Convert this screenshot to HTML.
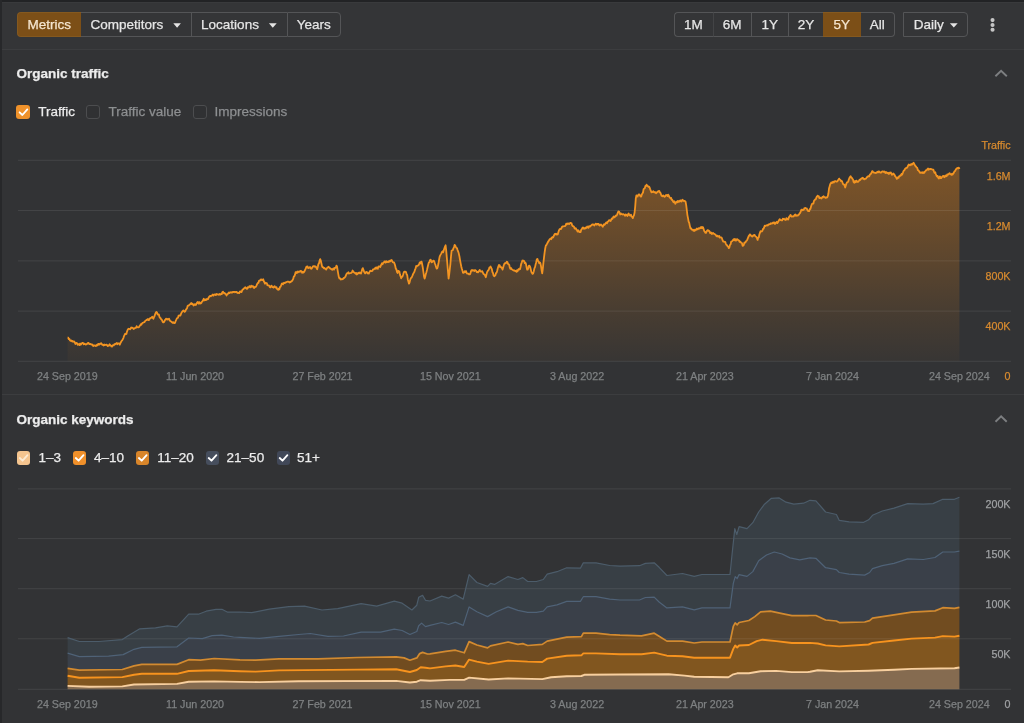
<!DOCTYPE html>
<html><head><meta charset="utf-8">
<style>
*{box-sizing:border-box;margin:0;padding:0}
html,body{width:1024px;height:723px;overflow:hidden;background:#323335;font-family:"Liberation Sans",sans-serif;}
#root{-webkit-text-stroke:0.25px;filter:blur(0.6px);position:relative;width:1024px;height:723px;background:#323335;overflow:hidden;color:#e8e8e8;font-size:13.5px}
.abs{position:absolute}
.topedge{left:0;top:0;width:1024px;height:1.5px;background:#222325}
.topedge2{left:2px;top:1.5px;width:1022px;height:1.5px;background:#393a3c}
.leftedge{left:0;top:0;width:1.5px;height:723px;background:#27282a}
.hdr{left:2px;top:3px;width:1022px;height:46px;background:#343537}
.sep{left:2px;width:1022px;height:1px;background:#3c3d3f}
.btn{position:absolute;top:12.4px;height:25px;line-height:23.4px;text-align:center;color:#e6e6e6;font-size:13.5px;border-top:1px solid #545557;border-bottom:1px solid #545557;white-space:nowrap}
.btn.sepl{border-left:1px solid #545557}
.btn.first{border-left:1px solid #545557;border-radius:4px 0 0 4px}
.btn.last{border-right:1px solid #545557;border-radius:0 4px 4px 0}
.btn.act{background:#7c4f17;border-color:#85591f;color:#f5e6d0}
.caret{display:inline-block;width:0;height:0;border-left:3.9px solid transparent;border-right:3.9px solid transparent;border-top:4.5px solid #e6e6e6;vertical-align:middle;margin-left:9.6px;position:relative;top:0.3px}
.h{position:absolute;left:16.5px;font-weight:bold;font-size:13.5px;color:#ececec;white-space:nowrap}
.cb{position:absolute;width:13.8px;height:13.8px;border-radius:3px}
.cb.off{border:1px solid #4c4d4f;background:#303133}
.lbl{position:absolute;font-size:13.5px;white-space:nowrap;line-height:16px}
.xl{position:absolute;font-size:10.7px;color:#7e8082;white-space:nowrap;line-height:12px}
.yl{position:absolute;font-size:10.7px;white-space:nowrap;line-height:12px;text-align:right;width:60px}
svg{position:absolute;left:0;top:0}
</style></head><body>
<div id="root">
<div class="abs hdr"></div>
<div class="abs topedge"></div>
<div class="abs topedge2"></div>
<div class="abs leftedge"></div>
<div class="abs sep" style="top:49.2px"></div>
<div class="abs sep" style="top:393.8px"></div>

<!-- left button group -->
<div class="btn first act" style="left:16.5px;width:64.5px">Metrics</div>
<div class="btn" style="left:81px;width:109.5px;text-align:left;padding-left:9.6px">Competitors</div>
<div class="btn sepl" style="left:190.5px;width:96px;text-align:left;padding-left:9.6px">Locations</div>
<div class="btn sepl last" style="left:286.5px;width:54.5px">Years</div>

<!-- right button group -->
<div class="btn first" style="left:673.5px;width:39px">1M</div>
<div class="btn sepl" style="left:712.5px;width:38.3px;border-left-color:#434446">6M</div>
<div class="btn sepl" style="left:750.8px;width:37px">1Y</div>
<div class="btn sepl" style="left:787.8px;width:35.2px">2Y</div>
<div class="btn act" style="left:823px;width:37.5px">5Y</div>
<div class="btn last" style="left:860.5px;width:34.3px">All</div>
<div class="btn first last" style="left:903px;width:65px;text-align:left;padding-left:9.8px">Daily</div>

<!-- section 1 -->
<div class="h" style="top:66px">Organic traffic</div>
<div class="cb" style="left:16.4px;top:105.3px;background:#ef922b"></div>
<div class="lbl" style="left:38.2px;top:104px;color:#ececec">Traffic</div>
<div class="cb off" style="left:86.3px;top:105.3px"></div>
<div class="lbl" style="left:108.5px;top:104px;color:#8d8f91">Traffic value</div>
<div class="cb off" style="left:192.8px;top:105.3px"></div>
<div class="lbl" style="left:214.6px;top:104px;color:#8d8f91">Impressions</div>

<!-- section 2 -->
<div class="h" style="top:412px">Organic keywords</div>
<div class="cb" style="left:16.6px;top:451px;background:#f5c58f"></div>
<div class="lbl" style="left:38.6px;top:449.8px;color:#ececec">1–3</div>
<div class="cb" style="left:72.6px;top:451px;background:#f0902a"></div>
<div class="lbl" style="left:94px;top:449.8px;color:#ececec">4–10</div>
<div class="cb" style="left:135.7px;top:451px;background:#d8852a"></div>
<div class="lbl" style="left:157.3px;top:449.8px;color:#ececec">11–20</div>
<div class="cb" style="left:205.5px;top:451px;background:#464e5d"></div>
<div class="lbl" style="left:226.6px;top:449.8px;color:#ececec">21–50</div>
<div class="cb" style="left:276.5px;top:451px;background:#414858"></div>
<div class="lbl" style="left:297px;top:449.8px;color:#ececec">51+</div>


<svg width="1024" height="723" viewBox="0 0 1024 723">
<defs>
<linearGradient id="tg" x1="0" y1="160" x2="0" y2="361" gradientUnits="userSpaceOnUse">
<stop offset="0" stop-color="#ea8415" stop-opacity="0.42"/>
<stop offset="0.25" stop-color="#ea8415" stop-opacity="0.33"/>
<stop offset="0.5" stop-color="#ea8415" stop-opacity="0.23"/>
<stop offset="0.75" stop-color="#ea8415" stop-opacity="0.12"/>
<stop offset="1" stop-color="#ea8415" stop-opacity="0.03"/>
</linearGradient>
</defs>
<g fill="#e4e4e4">
<polygon points="173.3,23.2 180.9,23.2 177.1,27.7"/>
<polygon points="268.9,23.2 276.7,23.2 272.8,27.7"/>
<polygon points="949.9,23.2 957.7,23.2 953.8,27.6"/>
</g>
<g fill="#c6c6c6"><circle cx="992.55" cy="20.1" r="2.05"/><circle cx="992.55" cy="24.95" r="2.05"/><circle cx="992.55" cy="29.8" r="2.05"/></g>
<!-- chevrons -->
<path d="M995.4,76.3 L1001.1,70.9 L1006.8,76.3" fill="none" stroke="#7d7f81" stroke-width="1.9"/>
<path d="M995.5,421.7 L1001.1,416.4 L1006.7,421.7" fill="none" stroke="#7d7f81" stroke-width="1.9"/>
<!-- check marks -->
<path d="M19.6,112.3 L22.4,115 L27.3,109.4" fill="none" stroke="#fff" stroke-width="1.8" stroke-linecap="round" stroke-linejoin="round"/>

<path d="M19.8,458.0 L22.6,460.7 L27.5,455.1" fill="none" stroke="#fdebd3" stroke-width="1.8" stroke-linecap="round" stroke-linejoin="round"/>
<path d="M75.8,458.0 L78.6,460.7 L83.5,455.1" fill="none" stroke="#fff" stroke-width="1.8" stroke-linecap="round" stroke-linejoin="round"/>
<path d="M138.9,458.0 L141.7,460.7 L146.6,455.1" fill="none" stroke="#fff" stroke-width="1.8" stroke-linecap="round" stroke-linejoin="round"/>
<path d="M208.7,458.0 L211.5,460.7 L216.4,455.1" fill="none" stroke="#fff" stroke-width="1.8" stroke-linecap="round" stroke-linejoin="round"/>
<path d="M279.7,458.0 L282.5,460.7 L287.4,455.1" fill="none" stroke="#fff" stroke-width="1.8" stroke-linecap="round" stroke-linejoin="round"/>
<!-- top grid -->
<path d="M67.6,337.5 L68.2,337.6 L68.8,339.2 L69.4,339.0 L70.0,340.3 L70.6,340.9 L71.2,340.4 L71.8,341.4 L72.4,340.9 L73.0,341.8 L73.6,341.5 L74.2,341.5 L74.8,342.5 L75.4,344.0 L76.0,343.0 L76.6,342.8 L77.2,343.6 L77.8,344.8 L78.4,344.5 L79.0,344.0 L79.6,345.1 L80.2,343.5 L80.8,344.6 L81.4,343.9 L82.0,343.2 L82.6,342.8 L83.2,343.0 L83.8,344.3 L84.4,343.6 L85.0,344.1 L85.6,344.5 L86.2,344.1 L86.8,344.3 L87.4,343.4 L88.0,342.9 L88.6,343.0 L89.2,344.1 L89.8,344.2 L90.4,343.9 L91.0,344.4 L91.6,344.6 L92.2,344.4 L92.8,345.5 L93.4,346.0 L94.0,345.3 L94.6,345.7 L95.2,345.5 L95.8,346.0 L96.4,345.8 L97.0,344.6 L97.6,345.4 L98.2,343.8 L98.8,343.8 L99.4,344.6 L100.0,343.6 L100.6,343.9 L101.2,343.1 L101.8,344.1 L102.4,344.8 L103.0,344.8 L103.6,345.5 L104.2,344.5 L104.8,345.0 L105.4,344.9 L106.0,344.9 L106.6,344.6 L107.2,345.4 L107.8,346.1 L108.4,345.4 L109.0,345.6 L109.6,344.3 L110.2,345.1 L110.8,345.5 L111.4,346.5 L112.0,346.7 L112.6,345.5 L113.2,345.1 L113.8,345.4 L114.4,344.1 L115.0,344.4 L115.6,343.8 L116.2,343.4 L116.8,343.0 L117.4,344.3 L118.0,343.5 L118.6,343.3 L119.2,343.5 L119.8,344.7 L120.4,343.2 L121.0,342.0 L121.6,340.9 L122.2,340.4 L122.8,339.2 L123.4,338.1 L124.0,336.1 L124.6,334.9 L125.2,333.8 L125.8,334.1 L126.4,333.9 L127.0,331.6 L127.6,330.0 L128.2,329.0 L128.8,328.7 L129.4,329.0 L130.0,329.3 L130.6,328.6 L131.2,327.5 L131.8,327.8 L132.4,327.7 L133.0,328.0 L133.6,329.0 L134.2,328.7 L134.8,328.1 L135.4,327.9 L136.0,327.8 L136.6,326.2 L137.2,327.2 L137.8,327.3 L138.4,327.4 L139.0,327.2 L139.6,326.0 L140.2,325.3 L140.8,324.2 L141.4,324.7 L142.0,323.5 L142.6,322.8 L143.2,322.6 L143.8,322.3 L144.4,322.2 L145.0,321.3 L145.6,320.5 L146.2,320.2 L146.8,319.7 L147.4,319.8 L148.0,318.9 L148.6,320.1 L149.2,319.9 L149.8,318.6 L150.4,318.0 L151.0,317.8 L151.6,317.6 L152.2,316.8 L152.8,317.9 L153.4,318.7 L154.0,317.2 L154.6,316.0 L155.2,314.0 L155.8,312.6 L156.4,312.0 L157.0,312.5 L157.6,314.5 L158.2,314.3 L158.8,314.3 L159.4,316.7 L160.0,317.8 L160.6,318.0 L161.2,319.5 L161.8,319.7 L162.4,321.3 L163.0,322.3 L163.6,322.3 L164.2,321.8 L164.8,320.3 L165.4,319.6 L166.0,318.6 L166.6,319.3 L167.2,318.9 L167.8,319.6 L168.4,319.1 L169.0,318.6 L169.6,319.9 L170.2,321.0 L170.8,321.3 L171.4,321.7 L172.0,322.3 L172.6,322.8 L173.2,322.2 L173.8,322.9 L174.4,323.2 L175.0,323.0 L175.6,321.1 L176.2,319.9 L176.8,318.5 L177.4,318.1 L178.0,317.7 L178.6,315.6 L179.2,315.5 L179.8,315.6 L180.4,315.5 L181.0,313.9 L181.6,312.5 L182.2,311.7 L182.8,311.0 L183.4,310.5 L184.0,311.1 L184.6,311.8 L185.2,311.4 L185.8,309.9 L186.4,309.0 L187.0,308.4 L187.6,306.0 L188.2,305.6 L188.8,305.5 L189.4,304.7 L190.0,304.4 L190.6,303.9 L191.2,303.0 L191.8,304.1 L192.4,303.6 L193.0,304.5 L193.6,305.5 L194.2,304.7 L194.8,304.2 L195.4,305.0 L196.0,304.8 L196.6,303.4 L197.2,302.4 L197.8,301.9 L198.4,303.3 L199.0,303.7 L199.6,302.2 L200.2,303.0 L200.8,303.5 L201.4,302.8 L202.0,301.6 L202.6,301.2 L203.2,299.9 L203.8,298.8 L204.4,300.3 L205.0,300.1 L205.6,299.5 L206.2,300.0 L206.8,299.0 L207.4,299.3 L208.0,299.2 L208.6,297.6 L209.2,296.8 L209.8,296.3 L210.4,295.8 L211.0,296.2 L211.6,295.5 L212.2,295.3 L212.8,294.4 L213.4,295.6 L214.0,294.8 L214.6,294.4 L215.2,294.4 L215.8,295.0 L216.4,294.0 L217.0,294.5 L217.6,294.3 L218.2,294.5 L218.8,294.8 L219.4,293.9 L220.0,294.7 L220.6,294.6 L221.2,293.7 L221.8,294.0 L222.4,292.1 L223.0,291.6 L223.6,292.8 L224.2,293.3 L224.8,293.2 L225.4,293.8 L226.0,294.4 L226.6,295.5 L227.2,294.1 L227.8,294.0 L228.4,293.1 L229.0,292.5 L229.6,293.1 L230.2,292.6 L230.8,292.2 L231.4,292.3 L232.0,292.7 L232.6,292.0 L233.2,292.1 L233.8,291.9 L234.4,291.8 L235.0,292.3 L235.6,292.0 L236.2,292.0 L236.8,291.9 L237.4,293.0 L238.0,292.8 L238.6,293.0 L239.2,293.1 L239.8,291.5 L240.4,291.3 L241.0,292.0 L241.6,292.0 L242.2,290.3 L242.8,289.3 L243.4,289.4 L244.0,288.3 L244.6,288.0 L245.2,287.2 L245.8,288.0 L246.4,288.5 L247.0,288.9 L247.6,287.3 L248.2,287.6 L248.8,287.5 L249.4,286.1 L250.0,286.9 L250.6,287.4 L251.2,285.7 L251.8,286.5 L252.4,286.1 L253.0,286.2 L253.6,287.5 L254.2,288.0 L254.8,286.9 L255.4,287.1 L256.0,286.7 L256.6,285.4 L257.2,283.9 L257.8,283.0 L258.4,282.9 L259.0,280.8 L259.6,280.5 L260.2,280.5 L260.8,279.4 L261.4,279.5 L262.0,280.2 L262.6,280.2 L263.2,279.2 L263.8,281.2 L264.4,282.3 L265.0,283.7 L265.6,282.8 L266.2,283.1 L266.8,283.1 L267.4,285.2 L268.0,285.4 L268.6,285.3 L269.2,285.7 L269.8,287.0 L270.4,287.4 L271.0,286.4 L271.6,285.6 L272.2,287.0 L272.8,287.1 L273.4,287.6 L274.0,286.6 L274.6,286.1 L275.2,287.4 L275.8,287.6 L276.4,287.1 L277.0,288.9 L277.6,289.2 L278.2,289.9 L278.8,288.7 L279.4,289.3 L280.0,286.8 L280.6,286.8 L281.2,285.2 L281.8,283.6 L282.4,283.4 L283.0,284.4 L283.6,283.4 L284.2,282.6 L284.8,283.1 L285.4,282.7 L286.0,282.2 L286.6,282.1 L287.2,281.6 L287.8,281.6 L288.4,281.8 L289.0,281.7 L289.6,282.6 L290.2,281.9 L290.8,282.0 L291.4,281.1 L292.0,281.0 L292.6,280.1 L293.2,278.9 L293.8,276.6 L294.4,276.2 L295.0,274.7 L295.6,272.2 L296.2,272.1 L296.8,273.1 L297.4,271.5 L298.0,272.3 L298.6,271.7 L299.2,271.4 L299.8,271.9 L300.4,271.0 L301.0,271.0 L301.6,271.6 L302.2,272.7 L302.8,271.8 L303.4,272.6 L304.0,272.0 L304.6,271.1 L305.2,269.7 L305.8,268.4 L306.4,266.7 L307.0,266.6 L307.6,266.5 L308.2,268.1 L308.8,267.9 L309.4,267.7 L310.0,267.0 L310.6,268.2 L311.2,268.8 L311.8,268.4 L312.4,267.2 L313.0,266.4 L313.6,266.2 L314.2,266.6 L314.8,266.2 L315.4,266.8 L316.0,266.7 L316.6,268.3 L317.2,269.2 L317.8,266.8 L318.4,264.0 L319.0,263.3 L319.6,260.6 L320.2,259.2 L320.8,260.6 L321.4,263.3 L322.0,266.1 L322.6,267.2 L323.2,267.2 L323.8,268.2 L324.4,267.9 L325.0,268.6 L325.6,268.9 L326.2,269.5 L326.8,268.4 L327.4,267.5 L328.0,267.4 L328.6,266.8 L329.2,267.5 L329.8,267.9 L330.4,268.6 L331.0,268.9 L331.6,269.2 L332.2,269.8 L332.8,269.0 L333.4,268.5 L334.0,269.6 L334.6,267.8 L335.2,267.9 L335.8,267.6 L336.4,265.7 L337.0,266.4 L337.6,270.2 L338.2,273.7 L338.8,276.9 L339.4,278.4 L340.0,278.1 L340.6,279.5 L341.2,279.1 L341.8,279.4 L342.4,279.2 L343.0,278.9 L343.6,278.0 L344.2,278.0 L344.8,277.3 L345.4,276.7 L346.0,275.2 L346.6,273.8 L347.2,273.1 L347.8,273.1 L348.4,272.3 L349.0,273.5 L349.6,273.3 L350.2,273.2 L350.8,273.0 L351.4,272.8 L352.0,272.2 L352.6,270.5 L353.2,271.4 L353.8,272.3 L354.4,272.5 L355.0,272.9 L355.6,273.7 L356.2,273.0 L356.8,274.5 L357.4,274.1 L358.0,273.0 L358.6,272.7 L359.2,273.4 L359.8,272.4 L360.4,273.0 L361.0,273.6 L361.6,271.5 L362.2,269.2 L362.8,268.1 L363.4,269.8 L364.0,271.4 L364.6,272.5 L365.2,273.4 L365.8,272.3 L366.4,271.9 L367.0,272.1 L367.6,273.4 L368.2,273.1 L368.8,273.6 L369.4,272.1 L370.0,271.1 L370.6,270.7 L371.2,271.2 L371.8,271.1 L372.4,270.8 L373.0,269.5 L373.6,269.4 L374.2,269.0 L374.8,268.7 L375.4,267.6 L376.0,268.7 L376.6,267.4 L377.2,268.5 L377.8,268.8 L378.4,266.6 L379.0,266.3 L379.6,266.7 L380.2,267.0 L380.8,265.7 L381.4,264.4 L382.0,263.3 L382.6,264.2 L383.2,262.8 L383.8,262.6 L384.4,261.3 L385.0,261.5 L385.6,262.6 L386.2,261.2 L386.8,262.0 L387.4,261.6 L388.0,262.2 L388.6,262.0 L389.2,260.8 L389.8,261.6 L390.4,261.0 L391.0,260.2 L391.6,260.0 L392.2,261.3 L392.8,262.1 L393.4,262.4 L394.0,262.5 L394.6,263.8 L395.2,265.7 L395.8,268.7 L396.4,269.2 L397.0,272.1 L397.6,273.0 L398.2,270.8 L398.8,271.2 L399.4,271.6 L400.0,274.8 L400.6,276.3 L401.2,278.3 L401.8,276.7 L402.4,276.7 L403.0,275.0 L403.6,272.9 L404.2,271.7 L404.8,271.9 L405.4,271.7 L406.0,272.1 L406.6,274.3 L407.2,275.1 L407.8,279.4 L408.4,281.4 L409.0,283.7 L409.6,282.3 L410.2,279.9 L410.8,278.2 L411.4,277.8 L412.0,276.7 L412.6,275.4 L413.2,273.7 L413.8,272.8 L414.4,271.8 L415.0,269.7 L415.6,268.3 L416.2,266.0 L416.8,266.3 L417.4,265.6 L418.0,265.6 L418.6,265.2 L419.2,263.9 L419.8,262.4 L420.4,263.5 L421.0,261.9 L421.6,261.7 L422.2,264.5 L422.8,267.7 L423.4,272.0 L424.0,276.4 L424.6,278.6 L425.2,276.8 L425.8,274.1 L426.4,272.3 L427.0,269.9 L427.6,267.2 L428.2,264.7 L428.8,262.6 L429.4,262.2 L430.0,260.1 L430.6,259.6 L431.2,261.1 L431.8,262.2 L432.4,261.7 L433.0,260.8 L433.6,260.7 L434.2,261.2 L434.8,263.3 L435.4,264.7 L436.0,266.7 L436.6,268.6 L437.2,268.4 L437.8,266.5 L438.4,263.8 L439.0,260.1 L439.6,256.8 L440.2,255.4 L440.8,254.4 L441.4,253.4 L442.0,251.9 L442.6,251.3 L443.2,252.2 L443.8,250.1 L444.4,248.3 L445.0,246.6 L445.6,245.3 L446.2,250.7 L446.8,257.4 L447.4,264.4 L448.0,271.8 L448.6,278.7 L449.2,274.4 L449.8,269.2 L450.4,263.8 L451.0,256.4 L451.6,250.6 L452.2,250.4 L452.8,250.1 L453.4,248.3 L454.0,247.1 L454.6,244.9 L455.2,245.4 L455.8,247.0 L456.4,247.8 L457.0,248.3 L457.6,250.1 L458.2,251.6 L458.8,253.6 L459.4,256.2 L460.0,259.8 L460.6,263.1 L461.2,266.2 L461.8,268.4 L462.4,270.4 L463.0,272.8 L463.6,272.8 L464.2,272.5 L464.8,271.1 L465.4,272.0 L466.0,271.1 L466.6,272.9 L467.2,273.6 L467.8,273.6 L468.4,273.6 L469.0,274.3 L469.6,274.4 L470.2,274.0 L470.8,271.9 L471.4,270.3 L472.0,270.0 L472.6,270.6 L473.2,270.6 L473.8,270.2 L474.4,271.0 L475.0,270.1 L475.6,270.4 L476.2,270.9 L476.8,272.1 L477.4,272.0 L478.0,272.4 L478.6,271.6 L479.2,270.6 L479.8,270.0 L480.4,271.4 L481.0,271.6 L481.6,271.5 L482.2,271.1 L482.8,272.4 L483.4,273.8 L484.0,274.3 L484.6,274.5 L485.2,275.9 L485.8,277.2 L486.4,274.8 L487.0,272.4 L487.6,271.3 L488.2,270.3 L488.8,269.7 L489.4,267.6 L490.0,267.3 L490.6,266.5 L491.2,268.0 L491.8,268.9 L492.4,272.0 L493.0,273.0 L493.6,275.5 L494.2,276.3 L494.8,275.8 L495.4,275.2 L496.0,273.1 L496.6,272.8 L497.2,270.8 L497.8,268.3 L498.4,266.3 L499.0,265.0 L499.6,265.2 L500.2,267.2 L500.8,266.8 L501.4,267.7 L502.0,268.3 L502.6,269.6 L503.2,267.3 L503.8,265.3 L504.4,263.7 L505.0,263.1 L505.6,263.4 L506.2,262.9 L506.8,261.7 L507.4,262.1 L508.0,263.9 L508.6,264.2 L509.2,264.8 L509.8,267.6 L510.4,268.9 L511.0,268.0 L511.6,269.2 L512.2,269.5 L512.8,269.9 L513.4,270.4 L514.0,270.5 L514.6,270.5 L515.2,271.0 L515.8,270.9 L516.4,271.9 L517.0,270.3 L517.6,271.2 L518.2,269.7 L518.8,269.0 L519.4,269.5 L520.0,269.2 L520.6,266.8 L521.2,263.8 L521.8,262.3 L522.4,260.5 L523.0,260.8 L523.6,260.6 L524.2,261.2 L524.8,263.2 L525.4,262.6 L526.0,264.1 L526.6,267.2 L527.2,269.7 L527.8,269.6 L528.4,267.4 L529.0,265.6 L529.6,265.9 L530.2,266.9 L530.8,269.5 L531.4,272.1 L532.0,273.0 L532.6,273.9 L533.2,273.3 L533.8,271.2 L534.4,268.4 L535.0,267.1 L535.6,264.5 L536.2,262.2 L536.8,259.5 L537.4,258.9 L538.0,260.7 L538.6,261.5 L539.2,263.2 L539.8,262.4 L540.4,263.1 L541.0,266.1 L541.6,270.1 L542.2,273.4 L542.8,268.9 L543.4,262.9 L544.0,257.7 L544.6,252.7 L545.2,248.5 L545.8,245.6 L546.4,245.0 L547.0,243.9 L547.6,242.8 L548.2,241.5 L548.8,240.9 L549.4,239.7 L550.0,239.0 L550.6,238.6 L551.2,239.2 L551.8,237.7 L552.4,237.0 L553.0,237.5 L553.6,236.3 L554.2,235.0 L554.8,233.9 L555.4,234.3 L556.0,233.7 L556.6,234.6 L557.2,234.5 L557.8,234.3 L558.4,232.1 L559.0,230.3 L559.6,229.1 L560.2,229.0 L560.8,229.2 L561.4,228.3 L562.0,227.0 L562.6,226.4 L563.2,226.4 L563.8,226.3 L564.4,226.2 L565.0,226.2 L565.6,225.5 L566.2,223.7 L566.8,224.3 L567.4,223.5 L568.0,223.8 L568.6,223.5 L569.2,224.1 L569.8,223.2 L570.4,222.9 L571.0,223.1 L571.6,223.4 L572.2,225.5 L572.8,226.2 L573.4,226.2 L574.0,226.7 L574.6,228.6 L575.2,228.6 L575.8,228.2 L576.4,229.6 L577.0,230.2 L577.6,231.5 L578.2,230.3 L578.8,230.9 L579.4,232.2 L580.0,232.2 L580.6,232.1 L581.2,229.8 L581.8,229.0 L582.4,228.0 L583.0,227.4 L583.6,228.6 L584.2,228.1 L584.8,228.7 L585.4,227.6 L586.0,228.2 L586.6,227.4 L587.2,226.5 L587.8,227.2 L588.4,227.9 L589.0,226.2 L589.6,226.4 L590.2,226.5 L590.8,225.5 L591.4,225.3 L592.0,224.6 L592.6,224.4 L593.2,224.3 L593.8,225.0 L594.4,225.5 L595.0,224.6 L595.6,223.7 L596.2,223.9 L596.8,224.7 L597.4,224.0 L598.0,223.9 L598.6,223.8 L599.2,225.3 L599.8,225.6 L600.4,224.7 L601.0,224.5 L601.6,225.2 L602.2,226.0 L602.8,226.8 L603.4,225.2 L604.0,224.3 L604.6,224.8 L605.2,224.0 L605.8,223.1 L606.4,222.4 L607.0,223.2 L607.6,221.8 L608.2,221.4 L608.8,220.5 L609.4,220.1 L610.0,220.7 L610.6,221.1 L611.2,219.7 L611.8,218.5 L612.4,218.9 L613.0,217.7 L613.6,216.5 L614.2,217.4 L614.8,216.5 L615.4,216.6 L616.0,215.4 L616.6,215.6 L617.2,214.4 L617.8,212.8 L618.4,211.3 L619.0,211.5 L619.6,212.8 L620.2,214.5 L620.8,213.4 L621.4,214.2 L622.0,214.2 L622.6,214.6 L623.2,214.2 L623.8,214.4 L624.4,214.9 L625.0,215.9 L625.6,214.5 L626.2,214.6 L626.8,215.3 L627.4,216.0 L628.0,214.5 L628.6,213.5 L629.2,214.8 L629.8,215.5 L630.4,215.4 L631.0,214.7 L631.6,216.7 L632.2,216.9 L632.8,218.1 L633.4,216.4 L634.0,215.3 L634.6,212.5 L635.2,206.6 L635.8,198.4 L636.4,195.4 L637.0,196.2 L637.6,196.5 L638.2,195.1 L638.8,194.4 L639.4,194.4 L640.0,195.5 L640.6,196.5 L641.2,196.5 L641.8,194.5 L642.4,193.5 L643.0,192.5 L643.6,189.2 L644.2,188.6 L644.8,188.3 L645.4,186.0 L646.0,186.2 L646.6,184.6 L647.2,185.6 L647.8,186.2 L648.4,186.8 L649.0,186.6 L649.6,187.5 L650.2,189.3 L650.8,190.7 L651.4,192.3 L652.0,192.1 L652.6,192.1 L653.2,191.1 L653.8,192.1 L654.4,192.3 L655.0,191.9 L655.6,192.8 L656.2,193.2 L656.8,192.6 L657.4,191.7 L658.0,191.8 L658.6,191.0 L659.2,190.8 L659.8,192.3 L660.4,192.8 L661.0,194.4 L661.6,195.8 L662.2,195.6 L662.8,196.4 L663.4,195.4 L664.0,196.4 L664.6,196.9 L665.2,196.4 L665.8,195.1 L666.4,195.3 L667.0,195.0 L667.6,196.1 L668.2,194.7 L668.8,195.5 L669.4,197.1 L670.0,197.7 L670.6,198.6 L671.2,198.0 L671.8,199.9 L672.4,200.0 L673.0,201.4 L673.6,202.3 L674.2,201.3 L674.8,202.5 L675.4,203.8 L676.0,202.2 L676.6,201.7 L677.2,202.3 L677.8,201.0 L678.4,201.9 L679.0,200.9 L679.6,201.6 L680.2,200.3 L680.8,200.5 L681.4,201.5 L682.0,200.2 L682.6,199.8 L683.2,200.7 L683.8,201.0 L684.4,200.8 L685.0,201.3 L685.6,201.8 L686.2,205.2 L686.8,210.0 L687.4,215.1 L688.0,218.2 L688.6,221.5 L689.2,222.8 L689.8,225.7 L690.4,228.4 L691.0,228.2 L691.6,229.5 L692.2,229.6 L692.8,229.8 L693.4,230.8 L694.0,229.6 L694.6,230.9 L695.2,230.4 L695.8,229.4 L696.4,229.8 L697.0,228.5 L697.6,229.4 L698.2,228.8 L698.8,228.1 L699.4,228.6 L700.0,228.2 L700.6,227.3 L701.2,228.1 L701.8,226.9 L702.4,228.1 L703.0,227.3 L703.6,228.9 L704.2,231.0 L704.8,231.7 L705.4,232.8 L706.0,232.9 L706.6,231.4 L707.2,230.5 L707.8,230.1 L708.4,230.8 L709.0,230.7 L709.6,231.6 L710.2,233.2 L710.8,232.5 L711.4,232.7 L712.0,234.0 L712.6,233.2 L713.2,233.0 L713.8,233.8 L714.4,233.8 L715.0,234.5 L715.6,234.7 L716.2,235.7 L716.8,236.2 L717.4,235.7 L718.0,236.5 L718.6,236.6 L719.2,235.9 L719.8,237.6 L720.4,237.4 L721.0,237.3 L721.6,237.5 L722.2,239.1 L722.8,240.7 L723.4,241.7 L724.0,241.7 L724.6,241.9 L725.2,241.8 L725.8,243.6 L726.4,244.8 L727.0,245.3 L727.6,246.3 L728.2,246.6 L728.8,248.1 L729.4,247.4 L730.0,244.9 L730.6,244.4 L731.2,241.5 L731.8,241.3 L732.4,240.9 L733.0,240.2 L733.6,239.3 L734.2,240.3 L734.8,238.9 L735.4,239.4 L736.0,240.7 L736.6,239.5 L737.2,239.1 L737.8,239.9 L738.4,240.1 L739.0,240.5 L739.6,241.8 L740.2,241.5 L740.8,242.2 L741.4,243.0 L742.0,243.2 L742.6,245.8 L743.2,245.7 L743.8,244.9 L744.4,242.5 L745.0,242.7 L745.6,242.2 L746.2,240.9 L746.8,240.5 L747.4,239.3 L748.0,237.8 L748.6,236.4 L749.2,235.6 L749.8,234.4 L750.4,234.6 L751.0,235.7 L751.6,236.0 L752.2,236.5 L752.8,236.4 L753.4,235.2 L754.0,235.2 L754.6,234.9 L755.2,236.1 L755.8,236.7 L756.4,236.8 L757.0,238.1 L757.6,239.9 L758.2,237.7 L758.8,237.2 L759.4,234.2 L760.0,232.6 L760.6,231.1 L761.2,231.3 L761.8,231.5 L762.4,230.7 L763.0,228.9 L763.6,228.8 L764.2,227.1 L764.8,225.7 L765.4,226.0 L766.0,225.6 L766.6,225.4 L767.2,225.1 L767.8,225.5 L768.4,224.4 L769.0,224.5 L769.6,224.1 L770.2,224.1 L770.8,223.3 L771.4,223.6 L772.0,223.5 L772.6,222.9 L773.2,222.5 L773.8,223.2 L774.4,222.4 L775.0,224.0 L775.6,223.1 L776.2,222.4 L776.8,221.8 L777.4,223.1 L778.0,222.2 L778.6,221.0 L779.2,219.9 L779.8,219.2 L780.4,220.1 L781.0,220.1 L781.6,220.3 L782.2,220.4 L782.8,218.8 L783.4,219.2 L784.0,218.7 L784.6,219.5 L785.2,219.8 L785.8,220.0 L786.4,218.1 L787.0,218.9 L787.6,219.4 L788.2,219.5 L788.8,217.5 L789.4,216.5 L790.0,215.7 L790.6,214.9 L791.2,216.3 L791.8,216.7 L792.4,216.3 L793.0,216.5 L793.6,216.4 L794.2,215.6 L794.8,214.8 L795.4,214.4 L796.0,215.8 L796.6,215.3 L797.2,215.4 L797.8,215.7 L798.4,215.0 L799.0,214.5 L799.6,213.3 L800.2,212.9 L800.8,211.2 L801.4,209.6 L802.0,210.3 L802.6,209.7 L803.2,210.1 L803.8,209.7 L804.4,208.1 L805.0,208.1 L805.6,208.0 L806.2,208.7 L806.8,208.5 L807.4,210.1 L808.0,211.0 L808.6,210.9 L809.2,211.1 L809.8,209.0 L810.4,209.0 L811.0,206.8 L811.6,204.8 L812.2,203.6 L812.8,203.7 L813.4,203.6 L814.0,200.8 L814.6,200.2 L815.2,199.4 L815.8,199.3 L816.4,197.4 L817.0,196.7 L817.6,195.6 L818.2,196.6 L818.8,196.3 L819.4,198.1 L820.0,197.8 L820.6,197.7 L821.2,198.5 L821.8,198.1 L822.4,196.9 L823.0,197.4 L823.6,196.2 L824.2,197.0 L824.8,197.2 L825.4,197.8 L826.0,197.8 L826.6,197.3 L827.2,197.3 L827.8,196.1 L828.4,193.5 L829.0,188.6 L829.6,186.4 L830.2,184.2 L830.8,183.2 L831.4,182.4 L832.0,183.0 L832.6,182.2 L833.2,181.6 L833.8,182.5 L834.4,181.3 L835.0,181.2 L835.6,181.2 L836.2,181.6 L836.8,181.7 L837.4,181.3 L838.0,180.2 L838.6,179.5 L839.2,178.6 L839.8,179.6 L840.4,179.8 L841.0,181.0 L841.6,180.8 L842.2,181.8 L842.8,183.5 L843.4,184.4 L844.0,184.3 L844.6,185.5 L845.2,187.5 L845.8,185.4 L846.4,183.6 L847.0,182.4 L847.6,182.1 L848.2,181.7 L848.8,179.6 L849.4,178.0 L850.0,177.0 L850.6,176.2 L851.2,177.5 L851.8,177.8 L852.4,178.8 L853.0,179.4 L853.6,182.0 L854.2,182.7 L854.8,181.2 L855.4,182.3 L856.0,180.8 L856.6,180.6 L857.2,181.8 L857.8,181.8 L858.4,181.6 L859.0,180.7 L859.6,179.6 L860.2,180.0 L860.8,178.9 L861.4,178.5 L862.0,178.6 L862.6,177.8 L863.2,178.1 L863.8,179.1 L864.4,179.3 L865.0,178.8 L865.6,178.8 L866.2,178.4 L866.8,177.2 L867.4,177.1 L868.0,176.2 L868.6,176.2 L869.2,176.3 L869.8,174.8 L870.4,174.1 L871.0,173.8 L871.6,172.5 L872.2,171.1 L872.8,171.5 L873.4,172.4 L874.0,172.6 L874.6,172.6 L875.2,173.0 L875.8,172.9 L876.4,172.8 L877.0,172.3 L877.6,171.8 L878.2,172.4 L878.8,171.3 L879.4,171.5 L880.0,172.4 L880.6,172.7 L881.2,172.6 L881.8,171.6 L882.4,171.5 L883.0,171.5 L883.6,171.9 L884.2,171.5 L884.8,172.1 L885.4,173.1 L886.0,172.0 L886.6,172.6 L887.2,173.2 L887.8,172.7 L888.4,172.8 L889.0,174.0 L889.6,172.6 L890.2,173.1 L890.8,172.5 L891.4,173.7 L892.0,174.8 L892.6,174.4 L893.2,173.4 L893.8,174.0 L894.4,174.7 L895.0,176.0 L895.6,176.6 L896.2,177.6 L896.8,178.9 L897.4,178.3 L898.0,177.3 L898.6,177.8 L899.2,176.1 L899.8,176.2 L900.4,175.2 L901.0,175.4 L901.6,173.8 L902.2,174.5 L902.8,173.0 L903.4,171.2 L904.0,170.4 L904.6,170.0 L905.2,168.5 L905.8,168.3 L906.4,167.8 L907.0,167.8 L907.6,166.7 L908.2,165.5 L908.8,164.5 L909.4,164.8 L910.0,165.4 L910.6,164.9 L911.2,163.9 L911.8,164.7 L912.4,164.1 L913.0,163.4 L913.6,162.8 L914.2,163.9 L914.8,165.0 L915.4,166.0 L916.0,166.5 L916.6,167.5 L917.2,167.8 L917.8,170.1 L918.4,170.3 L919.0,171.1 L919.6,172.1 L920.2,172.8 L920.8,172.6 L921.4,172.3 L922.0,173.0 L922.6,172.2 L923.2,173.0 L923.8,172.2 L924.4,172.7 L925.0,171.4 L925.6,170.9 L926.2,170.1 L926.8,170.0 L927.4,169.2 L928.0,168.5 L928.6,169.7 L929.2,169.3 L929.8,168.9 L930.4,168.8 L931.0,169.1 L931.6,169.1 L932.2,169.5 L932.8,169.8 L933.4,169.7 L934.0,171.6 L934.6,172.9 L935.2,172.1 L935.8,174.0 L936.4,175.5 L937.0,176.5 L937.6,175.9 L938.2,177.7 L938.8,178.5 L939.4,177.2 L940.0,176.4 L940.6,178.1 L941.2,178.2 L941.8,177.3 L942.4,176.4 L943.0,176.0 L943.6,176.0 L944.2,177.2 L944.8,176.7 L945.4,175.5 L946.0,176.3 L946.6,176.2 L947.2,174.4 L947.8,174.8 L948.4,174.1 L949.0,173.9 L949.6,173.2 L950.2,173.9 L950.8,174.3 L951.4,174.8 L952.0,173.8 L952.6,174.6 L953.2,173.5 L953.8,172.9 L954.4,171.4 L955.0,171.2 L955.6,169.9 L956.2,169.0 L956.8,168.4 L957.4,167.9 L958.0,168.4 L958.6,167.7 L959.2,168.2 L959.4,168.9 L959.4,361.2 L67.6,361.2 Z" fill="url(#tg)"/>
<g stroke="#ffffff" stroke-opacity="0.085" stroke-width="1">
<line x1="18" x2="1011" y1="160.3" y2="160.3"/>
<line x1="18" x2="1011" y1="210.5" y2="210.5"/>
<line x1="18" x2="1011" y1="260.9" y2="260.9"/>
<line x1="18" x2="1011" y1="311.1" y2="311.1"/>
<line x1="18" x2="1011" y1="361.3" y2="361.3"/>
</g>
<path d="M67.6,337.5 L68.2,337.6 L68.8,339.2 L69.4,339.0 L70.0,340.3 L70.6,340.9 L71.2,340.4 L71.8,341.4 L72.4,340.9 L73.0,341.8 L73.6,341.5 L74.2,341.5 L74.8,342.5 L75.4,344.0 L76.0,343.0 L76.6,342.8 L77.2,343.6 L77.8,344.8 L78.4,344.5 L79.0,344.0 L79.6,345.1 L80.2,343.5 L80.8,344.6 L81.4,343.9 L82.0,343.2 L82.6,342.8 L83.2,343.0 L83.8,344.3 L84.4,343.6 L85.0,344.1 L85.6,344.5 L86.2,344.1 L86.8,344.3 L87.4,343.4 L88.0,342.9 L88.6,343.0 L89.2,344.1 L89.8,344.2 L90.4,343.9 L91.0,344.4 L91.6,344.6 L92.2,344.4 L92.8,345.5 L93.4,346.0 L94.0,345.3 L94.6,345.7 L95.2,345.5 L95.8,346.0 L96.4,345.8 L97.0,344.6 L97.6,345.4 L98.2,343.8 L98.8,343.8 L99.4,344.6 L100.0,343.6 L100.6,343.9 L101.2,343.1 L101.8,344.1 L102.4,344.8 L103.0,344.8 L103.6,345.5 L104.2,344.5 L104.8,345.0 L105.4,344.9 L106.0,344.9 L106.6,344.6 L107.2,345.4 L107.8,346.1 L108.4,345.4 L109.0,345.6 L109.6,344.3 L110.2,345.1 L110.8,345.5 L111.4,346.5 L112.0,346.7 L112.6,345.5 L113.2,345.1 L113.8,345.4 L114.4,344.1 L115.0,344.4 L115.6,343.8 L116.2,343.4 L116.8,343.0 L117.4,344.3 L118.0,343.5 L118.6,343.3 L119.2,343.5 L119.8,344.7 L120.4,343.2 L121.0,342.0 L121.6,340.9 L122.2,340.4 L122.8,339.2 L123.4,338.1 L124.0,336.1 L124.6,334.9 L125.2,333.8 L125.8,334.1 L126.4,333.9 L127.0,331.6 L127.6,330.0 L128.2,329.0 L128.8,328.7 L129.4,329.0 L130.0,329.3 L130.6,328.6 L131.2,327.5 L131.8,327.8 L132.4,327.7 L133.0,328.0 L133.6,329.0 L134.2,328.7 L134.8,328.1 L135.4,327.9 L136.0,327.8 L136.6,326.2 L137.2,327.2 L137.8,327.3 L138.4,327.4 L139.0,327.2 L139.6,326.0 L140.2,325.3 L140.8,324.2 L141.4,324.7 L142.0,323.5 L142.6,322.8 L143.2,322.6 L143.8,322.3 L144.4,322.2 L145.0,321.3 L145.6,320.5 L146.2,320.2 L146.8,319.7 L147.4,319.8 L148.0,318.9 L148.6,320.1 L149.2,319.9 L149.8,318.6 L150.4,318.0 L151.0,317.8 L151.6,317.6 L152.2,316.8 L152.8,317.9 L153.4,318.7 L154.0,317.2 L154.6,316.0 L155.2,314.0 L155.8,312.6 L156.4,312.0 L157.0,312.5 L157.6,314.5 L158.2,314.3 L158.8,314.3 L159.4,316.7 L160.0,317.8 L160.6,318.0 L161.2,319.5 L161.8,319.7 L162.4,321.3 L163.0,322.3 L163.6,322.3 L164.2,321.8 L164.8,320.3 L165.4,319.6 L166.0,318.6 L166.6,319.3 L167.2,318.9 L167.8,319.6 L168.4,319.1 L169.0,318.6 L169.6,319.9 L170.2,321.0 L170.8,321.3 L171.4,321.7 L172.0,322.3 L172.6,322.8 L173.2,322.2 L173.8,322.9 L174.4,323.2 L175.0,323.0 L175.6,321.1 L176.2,319.9 L176.8,318.5 L177.4,318.1 L178.0,317.7 L178.6,315.6 L179.2,315.5 L179.8,315.6 L180.4,315.5 L181.0,313.9 L181.6,312.5 L182.2,311.7 L182.8,311.0 L183.4,310.5 L184.0,311.1 L184.6,311.8 L185.2,311.4 L185.8,309.9 L186.4,309.0 L187.0,308.4 L187.6,306.0 L188.2,305.6 L188.8,305.5 L189.4,304.7 L190.0,304.4 L190.6,303.9 L191.2,303.0 L191.8,304.1 L192.4,303.6 L193.0,304.5 L193.6,305.5 L194.2,304.7 L194.8,304.2 L195.4,305.0 L196.0,304.8 L196.6,303.4 L197.2,302.4 L197.8,301.9 L198.4,303.3 L199.0,303.7 L199.6,302.2 L200.2,303.0 L200.8,303.5 L201.4,302.8 L202.0,301.6 L202.6,301.2 L203.2,299.9 L203.8,298.8 L204.4,300.3 L205.0,300.1 L205.6,299.5 L206.2,300.0 L206.8,299.0 L207.4,299.3 L208.0,299.2 L208.6,297.6 L209.2,296.8 L209.8,296.3 L210.4,295.8 L211.0,296.2 L211.6,295.5 L212.2,295.3 L212.8,294.4 L213.4,295.6 L214.0,294.8 L214.6,294.4 L215.2,294.4 L215.8,295.0 L216.4,294.0 L217.0,294.5 L217.6,294.3 L218.2,294.5 L218.8,294.8 L219.4,293.9 L220.0,294.7 L220.6,294.6 L221.2,293.7 L221.8,294.0 L222.4,292.1 L223.0,291.6 L223.6,292.8 L224.2,293.3 L224.8,293.2 L225.4,293.8 L226.0,294.4 L226.6,295.5 L227.2,294.1 L227.8,294.0 L228.4,293.1 L229.0,292.5 L229.6,293.1 L230.2,292.6 L230.8,292.2 L231.4,292.3 L232.0,292.7 L232.6,292.0 L233.2,292.1 L233.8,291.9 L234.4,291.8 L235.0,292.3 L235.6,292.0 L236.2,292.0 L236.8,291.9 L237.4,293.0 L238.0,292.8 L238.6,293.0 L239.2,293.1 L239.8,291.5 L240.4,291.3 L241.0,292.0 L241.6,292.0 L242.2,290.3 L242.8,289.3 L243.4,289.4 L244.0,288.3 L244.6,288.0 L245.2,287.2 L245.8,288.0 L246.4,288.5 L247.0,288.9 L247.6,287.3 L248.2,287.6 L248.8,287.5 L249.4,286.1 L250.0,286.9 L250.6,287.4 L251.2,285.7 L251.8,286.5 L252.4,286.1 L253.0,286.2 L253.6,287.5 L254.2,288.0 L254.8,286.9 L255.4,287.1 L256.0,286.7 L256.6,285.4 L257.2,283.9 L257.8,283.0 L258.4,282.9 L259.0,280.8 L259.6,280.5 L260.2,280.5 L260.8,279.4 L261.4,279.5 L262.0,280.2 L262.6,280.2 L263.2,279.2 L263.8,281.2 L264.4,282.3 L265.0,283.7 L265.6,282.8 L266.2,283.1 L266.8,283.1 L267.4,285.2 L268.0,285.4 L268.6,285.3 L269.2,285.7 L269.8,287.0 L270.4,287.4 L271.0,286.4 L271.6,285.6 L272.2,287.0 L272.8,287.1 L273.4,287.6 L274.0,286.6 L274.6,286.1 L275.2,287.4 L275.8,287.6 L276.4,287.1 L277.0,288.9 L277.6,289.2 L278.2,289.9 L278.8,288.7 L279.4,289.3 L280.0,286.8 L280.6,286.8 L281.2,285.2 L281.8,283.6 L282.4,283.4 L283.0,284.4 L283.6,283.4 L284.2,282.6 L284.8,283.1 L285.4,282.7 L286.0,282.2 L286.6,282.1 L287.2,281.6 L287.8,281.6 L288.4,281.8 L289.0,281.7 L289.6,282.6 L290.2,281.9 L290.8,282.0 L291.4,281.1 L292.0,281.0 L292.6,280.1 L293.2,278.9 L293.8,276.6 L294.4,276.2 L295.0,274.7 L295.6,272.2 L296.2,272.1 L296.8,273.1 L297.4,271.5 L298.0,272.3 L298.6,271.7 L299.2,271.4 L299.8,271.9 L300.4,271.0 L301.0,271.0 L301.6,271.6 L302.2,272.7 L302.8,271.8 L303.4,272.6 L304.0,272.0 L304.6,271.1 L305.2,269.7 L305.8,268.4 L306.4,266.7 L307.0,266.6 L307.6,266.5 L308.2,268.1 L308.8,267.9 L309.4,267.7 L310.0,267.0 L310.6,268.2 L311.2,268.8 L311.8,268.4 L312.4,267.2 L313.0,266.4 L313.6,266.2 L314.2,266.6 L314.8,266.2 L315.4,266.8 L316.0,266.7 L316.6,268.3 L317.2,269.2 L317.8,266.8 L318.4,264.0 L319.0,263.3 L319.6,260.6 L320.2,259.2 L320.8,260.6 L321.4,263.3 L322.0,266.1 L322.6,267.2 L323.2,267.2 L323.8,268.2 L324.4,267.9 L325.0,268.6 L325.6,268.9 L326.2,269.5 L326.8,268.4 L327.4,267.5 L328.0,267.4 L328.6,266.8 L329.2,267.5 L329.8,267.9 L330.4,268.6 L331.0,268.9 L331.6,269.2 L332.2,269.8 L332.8,269.0 L333.4,268.5 L334.0,269.6 L334.6,267.8 L335.2,267.9 L335.8,267.6 L336.4,265.7 L337.0,266.4 L337.6,270.2 L338.2,273.7 L338.8,276.9 L339.4,278.4 L340.0,278.1 L340.6,279.5 L341.2,279.1 L341.8,279.4 L342.4,279.2 L343.0,278.9 L343.6,278.0 L344.2,278.0 L344.8,277.3 L345.4,276.7 L346.0,275.2 L346.6,273.8 L347.2,273.1 L347.8,273.1 L348.4,272.3 L349.0,273.5 L349.6,273.3 L350.2,273.2 L350.8,273.0 L351.4,272.8 L352.0,272.2 L352.6,270.5 L353.2,271.4 L353.8,272.3 L354.4,272.5 L355.0,272.9 L355.6,273.7 L356.2,273.0 L356.8,274.5 L357.4,274.1 L358.0,273.0 L358.6,272.7 L359.2,273.4 L359.8,272.4 L360.4,273.0 L361.0,273.6 L361.6,271.5 L362.2,269.2 L362.8,268.1 L363.4,269.8 L364.0,271.4 L364.6,272.5 L365.2,273.4 L365.8,272.3 L366.4,271.9 L367.0,272.1 L367.6,273.4 L368.2,273.1 L368.8,273.6 L369.4,272.1 L370.0,271.1 L370.6,270.7 L371.2,271.2 L371.8,271.1 L372.4,270.8 L373.0,269.5 L373.6,269.4 L374.2,269.0 L374.8,268.7 L375.4,267.6 L376.0,268.7 L376.6,267.4 L377.2,268.5 L377.8,268.8 L378.4,266.6 L379.0,266.3 L379.6,266.7 L380.2,267.0 L380.8,265.7 L381.4,264.4 L382.0,263.3 L382.6,264.2 L383.2,262.8 L383.8,262.6 L384.4,261.3 L385.0,261.5 L385.6,262.6 L386.2,261.2 L386.8,262.0 L387.4,261.6 L388.0,262.2 L388.6,262.0 L389.2,260.8 L389.8,261.6 L390.4,261.0 L391.0,260.2 L391.6,260.0 L392.2,261.3 L392.8,262.1 L393.4,262.4 L394.0,262.5 L394.6,263.8 L395.2,265.7 L395.8,268.7 L396.4,269.2 L397.0,272.1 L397.6,273.0 L398.2,270.8 L398.8,271.2 L399.4,271.6 L400.0,274.8 L400.6,276.3 L401.2,278.3 L401.8,276.7 L402.4,276.7 L403.0,275.0 L403.6,272.9 L404.2,271.7 L404.8,271.9 L405.4,271.7 L406.0,272.1 L406.6,274.3 L407.2,275.1 L407.8,279.4 L408.4,281.4 L409.0,283.7 L409.6,282.3 L410.2,279.9 L410.8,278.2 L411.4,277.8 L412.0,276.7 L412.6,275.4 L413.2,273.7 L413.8,272.8 L414.4,271.8 L415.0,269.7 L415.6,268.3 L416.2,266.0 L416.8,266.3 L417.4,265.6 L418.0,265.6 L418.6,265.2 L419.2,263.9 L419.8,262.4 L420.4,263.5 L421.0,261.9 L421.6,261.7 L422.2,264.5 L422.8,267.7 L423.4,272.0 L424.0,276.4 L424.6,278.6 L425.2,276.8 L425.8,274.1 L426.4,272.3 L427.0,269.9 L427.6,267.2 L428.2,264.7 L428.8,262.6 L429.4,262.2 L430.0,260.1 L430.6,259.6 L431.2,261.1 L431.8,262.2 L432.4,261.7 L433.0,260.8 L433.6,260.7 L434.2,261.2 L434.8,263.3 L435.4,264.7 L436.0,266.7 L436.6,268.6 L437.2,268.4 L437.8,266.5 L438.4,263.8 L439.0,260.1 L439.6,256.8 L440.2,255.4 L440.8,254.4 L441.4,253.4 L442.0,251.9 L442.6,251.3 L443.2,252.2 L443.8,250.1 L444.4,248.3 L445.0,246.6 L445.6,245.3 L446.2,250.7 L446.8,257.4 L447.4,264.4 L448.0,271.8 L448.6,278.7 L449.2,274.4 L449.8,269.2 L450.4,263.8 L451.0,256.4 L451.6,250.6 L452.2,250.4 L452.8,250.1 L453.4,248.3 L454.0,247.1 L454.6,244.9 L455.2,245.4 L455.8,247.0 L456.4,247.8 L457.0,248.3 L457.6,250.1 L458.2,251.6 L458.8,253.6 L459.4,256.2 L460.0,259.8 L460.6,263.1 L461.2,266.2 L461.8,268.4 L462.4,270.4 L463.0,272.8 L463.6,272.8 L464.2,272.5 L464.8,271.1 L465.4,272.0 L466.0,271.1 L466.6,272.9 L467.2,273.6 L467.8,273.6 L468.4,273.6 L469.0,274.3 L469.6,274.4 L470.2,274.0 L470.8,271.9 L471.4,270.3 L472.0,270.0 L472.6,270.6 L473.2,270.6 L473.8,270.2 L474.4,271.0 L475.0,270.1 L475.6,270.4 L476.2,270.9 L476.8,272.1 L477.4,272.0 L478.0,272.4 L478.6,271.6 L479.2,270.6 L479.8,270.0 L480.4,271.4 L481.0,271.6 L481.6,271.5 L482.2,271.1 L482.8,272.4 L483.4,273.8 L484.0,274.3 L484.6,274.5 L485.2,275.9 L485.8,277.2 L486.4,274.8 L487.0,272.4 L487.6,271.3 L488.2,270.3 L488.8,269.7 L489.4,267.6 L490.0,267.3 L490.6,266.5 L491.2,268.0 L491.8,268.9 L492.4,272.0 L493.0,273.0 L493.6,275.5 L494.2,276.3 L494.8,275.8 L495.4,275.2 L496.0,273.1 L496.6,272.8 L497.2,270.8 L497.8,268.3 L498.4,266.3 L499.0,265.0 L499.6,265.2 L500.2,267.2 L500.8,266.8 L501.4,267.7 L502.0,268.3 L502.6,269.6 L503.2,267.3 L503.8,265.3 L504.4,263.7 L505.0,263.1 L505.6,263.4 L506.2,262.9 L506.8,261.7 L507.4,262.1 L508.0,263.9 L508.6,264.2 L509.2,264.8 L509.8,267.6 L510.4,268.9 L511.0,268.0 L511.6,269.2 L512.2,269.5 L512.8,269.9 L513.4,270.4 L514.0,270.5 L514.6,270.5 L515.2,271.0 L515.8,270.9 L516.4,271.9 L517.0,270.3 L517.6,271.2 L518.2,269.7 L518.8,269.0 L519.4,269.5 L520.0,269.2 L520.6,266.8 L521.2,263.8 L521.8,262.3 L522.4,260.5 L523.0,260.8 L523.6,260.6 L524.2,261.2 L524.8,263.2 L525.4,262.6 L526.0,264.1 L526.6,267.2 L527.2,269.7 L527.8,269.6 L528.4,267.4 L529.0,265.6 L529.6,265.9 L530.2,266.9 L530.8,269.5 L531.4,272.1 L532.0,273.0 L532.6,273.9 L533.2,273.3 L533.8,271.2 L534.4,268.4 L535.0,267.1 L535.6,264.5 L536.2,262.2 L536.8,259.5 L537.4,258.9 L538.0,260.7 L538.6,261.5 L539.2,263.2 L539.8,262.4 L540.4,263.1 L541.0,266.1 L541.6,270.1 L542.2,273.4 L542.8,268.9 L543.4,262.9 L544.0,257.7 L544.6,252.7 L545.2,248.5 L545.8,245.6 L546.4,245.0 L547.0,243.9 L547.6,242.8 L548.2,241.5 L548.8,240.9 L549.4,239.7 L550.0,239.0 L550.6,238.6 L551.2,239.2 L551.8,237.7 L552.4,237.0 L553.0,237.5 L553.6,236.3 L554.2,235.0 L554.8,233.9 L555.4,234.3 L556.0,233.7 L556.6,234.6 L557.2,234.5 L557.8,234.3 L558.4,232.1 L559.0,230.3 L559.6,229.1 L560.2,229.0 L560.8,229.2 L561.4,228.3 L562.0,227.0 L562.6,226.4 L563.2,226.4 L563.8,226.3 L564.4,226.2 L565.0,226.2 L565.6,225.5 L566.2,223.7 L566.8,224.3 L567.4,223.5 L568.0,223.8 L568.6,223.5 L569.2,224.1 L569.8,223.2 L570.4,222.9 L571.0,223.1 L571.6,223.4 L572.2,225.5 L572.8,226.2 L573.4,226.2 L574.0,226.7 L574.6,228.6 L575.2,228.6 L575.8,228.2 L576.4,229.6 L577.0,230.2 L577.6,231.5 L578.2,230.3 L578.8,230.9 L579.4,232.2 L580.0,232.2 L580.6,232.1 L581.2,229.8 L581.8,229.0 L582.4,228.0 L583.0,227.4 L583.6,228.6 L584.2,228.1 L584.8,228.7 L585.4,227.6 L586.0,228.2 L586.6,227.4 L587.2,226.5 L587.8,227.2 L588.4,227.9 L589.0,226.2 L589.6,226.4 L590.2,226.5 L590.8,225.5 L591.4,225.3 L592.0,224.6 L592.6,224.4 L593.2,224.3 L593.8,225.0 L594.4,225.5 L595.0,224.6 L595.6,223.7 L596.2,223.9 L596.8,224.7 L597.4,224.0 L598.0,223.9 L598.6,223.8 L599.2,225.3 L599.8,225.6 L600.4,224.7 L601.0,224.5 L601.6,225.2 L602.2,226.0 L602.8,226.8 L603.4,225.2 L604.0,224.3 L604.6,224.8 L605.2,224.0 L605.8,223.1 L606.4,222.4 L607.0,223.2 L607.6,221.8 L608.2,221.4 L608.8,220.5 L609.4,220.1 L610.0,220.7 L610.6,221.1 L611.2,219.7 L611.8,218.5 L612.4,218.9 L613.0,217.7 L613.6,216.5 L614.2,217.4 L614.8,216.5 L615.4,216.6 L616.0,215.4 L616.6,215.6 L617.2,214.4 L617.8,212.8 L618.4,211.3 L619.0,211.5 L619.6,212.8 L620.2,214.5 L620.8,213.4 L621.4,214.2 L622.0,214.2 L622.6,214.6 L623.2,214.2 L623.8,214.4 L624.4,214.9 L625.0,215.9 L625.6,214.5 L626.2,214.6 L626.8,215.3 L627.4,216.0 L628.0,214.5 L628.6,213.5 L629.2,214.8 L629.8,215.5 L630.4,215.4 L631.0,214.7 L631.6,216.7 L632.2,216.9 L632.8,218.1 L633.4,216.4 L634.0,215.3 L634.6,212.5 L635.2,206.6 L635.8,198.4 L636.4,195.4 L637.0,196.2 L637.6,196.5 L638.2,195.1 L638.8,194.4 L639.4,194.4 L640.0,195.5 L640.6,196.5 L641.2,196.5 L641.8,194.5 L642.4,193.5 L643.0,192.5 L643.6,189.2 L644.2,188.6 L644.8,188.3 L645.4,186.0 L646.0,186.2 L646.6,184.6 L647.2,185.6 L647.8,186.2 L648.4,186.8 L649.0,186.6 L649.6,187.5 L650.2,189.3 L650.8,190.7 L651.4,192.3 L652.0,192.1 L652.6,192.1 L653.2,191.1 L653.8,192.1 L654.4,192.3 L655.0,191.9 L655.6,192.8 L656.2,193.2 L656.8,192.6 L657.4,191.7 L658.0,191.8 L658.6,191.0 L659.2,190.8 L659.8,192.3 L660.4,192.8 L661.0,194.4 L661.6,195.8 L662.2,195.6 L662.8,196.4 L663.4,195.4 L664.0,196.4 L664.6,196.9 L665.2,196.4 L665.8,195.1 L666.4,195.3 L667.0,195.0 L667.6,196.1 L668.2,194.7 L668.8,195.5 L669.4,197.1 L670.0,197.7 L670.6,198.6 L671.2,198.0 L671.8,199.9 L672.4,200.0 L673.0,201.4 L673.6,202.3 L674.2,201.3 L674.8,202.5 L675.4,203.8 L676.0,202.2 L676.6,201.7 L677.2,202.3 L677.8,201.0 L678.4,201.9 L679.0,200.9 L679.6,201.6 L680.2,200.3 L680.8,200.5 L681.4,201.5 L682.0,200.2 L682.6,199.8 L683.2,200.7 L683.8,201.0 L684.4,200.8 L685.0,201.3 L685.6,201.8 L686.2,205.2 L686.8,210.0 L687.4,215.1 L688.0,218.2 L688.6,221.5 L689.2,222.8 L689.8,225.7 L690.4,228.4 L691.0,228.2 L691.6,229.5 L692.2,229.6 L692.8,229.8 L693.4,230.8 L694.0,229.6 L694.6,230.9 L695.2,230.4 L695.8,229.4 L696.4,229.8 L697.0,228.5 L697.6,229.4 L698.2,228.8 L698.8,228.1 L699.4,228.6 L700.0,228.2 L700.6,227.3 L701.2,228.1 L701.8,226.9 L702.4,228.1 L703.0,227.3 L703.6,228.9 L704.2,231.0 L704.8,231.7 L705.4,232.8 L706.0,232.9 L706.6,231.4 L707.2,230.5 L707.8,230.1 L708.4,230.8 L709.0,230.7 L709.6,231.6 L710.2,233.2 L710.8,232.5 L711.4,232.7 L712.0,234.0 L712.6,233.2 L713.2,233.0 L713.8,233.8 L714.4,233.8 L715.0,234.5 L715.6,234.7 L716.2,235.7 L716.8,236.2 L717.4,235.7 L718.0,236.5 L718.6,236.6 L719.2,235.9 L719.8,237.6 L720.4,237.4 L721.0,237.3 L721.6,237.5 L722.2,239.1 L722.8,240.7 L723.4,241.7 L724.0,241.7 L724.6,241.9 L725.2,241.8 L725.8,243.6 L726.4,244.8 L727.0,245.3 L727.6,246.3 L728.2,246.6 L728.8,248.1 L729.4,247.4 L730.0,244.9 L730.6,244.4 L731.2,241.5 L731.8,241.3 L732.4,240.9 L733.0,240.2 L733.6,239.3 L734.2,240.3 L734.8,238.9 L735.4,239.4 L736.0,240.7 L736.6,239.5 L737.2,239.1 L737.8,239.9 L738.4,240.1 L739.0,240.5 L739.6,241.8 L740.2,241.5 L740.8,242.2 L741.4,243.0 L742.0,243.2 L742.6,245.8 L743.2,245.7 L743.8,244.9 L744.4,242.5 L745.0,242.7 L745.6,242.2 L746.2,240.9 L746.8,240.5 L747.4,239.3 L748.0,237.8 L748.6,236.4 L749.2,235.6 L749.8,234.4 L750.4,234.6 L751.0,235.7 L751.6,236.0 L752.2,236.5 L752.8,236.4 L753.4,235.2 L754.0,235.2 L754.6,234.9 L755.2,236.1 L755.8,236.7 L756.4,236.8 L757.0,238.1 L757.6,239.9 L758.2,237.7 L758.8,237.2 L759.4,234.2 L760.0,232.6 L760.6,231.1 L761.2,231.3 L761.8,231.5 L762.4,230.7 L763.0,228.9 L763.6,228.8 L764.2,227.1 L764.8,225.7 L765.4,226.0 L766.0,225.6 L766.6,225.4 L767.2,225.1 L767.8,225.5 L768.4,224.4 L769.0,224.5 L769.6,224.1 L770.2,224.1 L770.8,223.3 L771.4,223.6 L772.0,223.5 L772.6,222.9 L773.2,222.5 L773.8,223.2 L774.4,222.4 L775.0,224.0 L775.6,223.1 L776.2,222.4 L776.8,221.8 L777.4,223.1 L778.0,222.2 L778.6,221.0 L779.2,219.9 L779.8,219.2 L780.4,220.1 L781.0,220.1 L781.6,220.3 L782.2,220.4 L782.8,218.8 L783.4,219.2 L784.0,218.7 L784.6,219.5 L785.2,219.8 L785.8,220.0 L786.4,218.1 L787.0,218.9 L787.6,219.4 L788.2,219.5 L788.8,217.5 L789.4,216.5 L790.0,215.7 L790.6,214.9 L791.2,216.3 L791.8,216.7 L792.4,216.3 L793.0,216.5 L793.6,216.4 L794.2,215.6 L794.8,214.8 L795.4,214.4 L796.0,215.8 L796.6,215.3 L797.2,215.4 L797.8,215.7 L798.4,215.0 L799.0,214.5 L799.6,213.3 L800.2,212.9 L800.8,211.2 L801.4,209.6 L802.0,210.3 L802.6,209.7 L803.2,210.1 L803.8,209.7 L804.4,208.1 L805.0,208.1 L805.6,208.0 L806.2,208.7 L806.8,208.5 L807.4,210.1 L808.0,211.0 L808.6,210.9 L809.2,211.1 L809.8,209.0 L810.4,209.0 L811.0,206.8 L811.6,204.8 L812.2,203.6 L812.8,203.7 L813.4,203.6 L814.0,200.8 L814.6,200.2 L815.2,199.4 L815.8,199.3 L816.4,197.4 L817.0,196.7 L817.6,195.6 L818.2,196.6 L818.8,196.3 L819.4,198.1 L820.0,197.8 L820.6,197.7 L821.2,198.5 L821.8,198.1 L822.4,196.9 L823.0,197.4 L823.6,196.2 L824.2,197.0 L824.8,197.2 L825.4,197.8 L826.0,197.8 L826.6,197.3 L827.2,197.3 L827.8,196.1 L828.4,193.5 L829.0,188.6 L829.6,186.4 L830.2,184.2 L830.8,183.2 L831.4,182.4 L832.0,183.0 L832.6,182.2 L833.2,181.6 L833.8,182.5 L834.4,181.3 L835.0,181.2 L835.6,181.2 L836.2,181.6 L836.8,181.7 L837.4,181.3 L838.0,180.2 L838.6,179.5 L839.2,178.6 L839.8,179.6 L840.4,179.8 L841.0,181.0 L841.6,180.8 L842.2,181.8 L842.8,183.5 L843.4,184.4 L844.0,184.3 L844.6,185.5 L845.2,187.5 L845.8,185.4 L846.4,183.6 L847.0,182.4 L847.6,182.1 L848.2,181.7 L848.8,179.6 L849.4,178.0 L850.0,177.0 L850.6,176.2 L851.2,177.5 L851.8,177.8 L852.4,178.8 L853.0,179.4 L853.6,182.0 L854.2,182.7 L854.8,181.2 L855.4,182.3 L856.0,180.8 L856.6,180.6 L857.2,181.8 L857.8,181.8 L858.4,181.6 L859.0,180.7 L859.6,179.6 L860.2,180.0 L860.8,178.9 L861.4,178.5 L862.0,178.6 L862.6,177.8 L863.2,178.1 L863.8,179.1 L864.4,179.3 L865.0,178.8 L865.6,178.8 L866.2,178.4 L866.8,177.2 L867.4,177.1 L868.0,176.2 L868.6,176.2 L869.2,176.3 L869.8,174.8 L870.4,174.1 L871.0,173.8 L871.6,172.5 L872.2,171.1 L872.8,171.5 L873.4,172.4 L874.0,172.6 L874.6,172.6 L875.2,173.0 L875.8,172.9 L876.4,172.8 L877.0,172.3 L877.6,171.8 L878.2,172.4 L878.8,171.3 L879.4,171.5 L880.0,172.4 L880.6,172.7 L881.2,172.6 L881.8,171.6 L882.4,171.5 L883.0,171.5 L883.6,171.9 L884.2,171.5 L884.8,172.1 L885.4,173.1 L886.0,172.0 L886.6,172.6 L887.2,173.2 L887.8,172.7 L888.4,172.8 L889.0,174.0 L889.6,172.6 L890.2,173.1 L890.8,172.5 L891.4,173.7 L892.0,174.8 L892.6,174.4 L893.2,173.4 L893.8,174.0 L894.4,174.7 L895.0,176.0 L895.6,176.6 L896.2,177.6 L896.8,178.9 L897.4,178.3 L898.0,177.3 L898.6,177.8 L899.2,176.1 L899.8,176.2 L900.4,175.2 L901.0,175.4 L901.6,173.8 L902.2,174.5 L902.8,173.0 L903.4,171.2 L904.0,170.4 L904.6,170.0 L905.2,168.5 L905.8,168.3 L906.4,167.8 L907.0,167.8 L907.6,166.7 L908.2,165.5 L908.8,164.5 L909.4,164.8 L910.0,165.4 L910.6,164.9 L911.2,163.9 L911.8,164.7 L912.4,164.1 L913.0,163.4 L913.6,162.8 L914.2,163.9 L914.8,165.0 L915.4,166.0 L916.0,166.5 L916.6,167.5 L917.2,167.8 L917.8,170.1 L918.4,170.3 L919.0,171.1 L919.6,172.1 L920.2,172.8 L920.8,172.6 L921.4,172.3 L922.0,173.0 L922.6,172.2 L923.2,173.0 L923.8,172.2 L924.4,172.7 L925.0,171.4 L925.6,170.9 L926.2,170.1 L926.8,170.0 L927.4,169.2 L928.0,168.5 L928.6,169.7 L929.2,169.3 L929.8,168.9 L930.4,168.8 L931.0,169.1 L931.6,169.1 L932.2,169.5 L932.8,169.8 L933.4,169.7 L934.0,171.6 L934.6,172.9 L935.2,172.1 L935.8,174.0 L936.4,175.5 L937.0,176.5 L937.6,175.9 L938.2,177.7 L938.8,178.5 L939.4,177.2 L940.0,176.4 L940.6,178.1 L941.2,178.2 L941.8,177.3 L942.4,176.4 L943.0,176.0 L943.6,176.0 L944.2,177.2 L944.8,176.7 L945.4,175.5 L946.0,176.3 L946.6,176.2 L947.2,174.4 L947.8,174.8 L948.4,174.1 L949.0,173.9 L949.6,173.2 L950.2,173.9 L950.8,174.3 L951.4,174.8 L952.0,173.8 L952.6,174.6 L953.2,173.5 L953.8,172.9 L954.4,171.4 L955.0,171.2 L955.6,169.9 L956.2,169.0 L956.8,168.4 L957.4,167.9 L958.0,168.4 L958.6,167.7 L959.2,168.2 L959.4,168.9" fill="none" stroke="#f29422" stroke-width="1.8" stroke-linejoin="round"/>

<!-- bottom grid -->
<path d="M67.6,637.6 L79.3,641.5 L98.8,641.5 L122.3,639.6 L128.1,635.7 L139.8,628.8 L155.5,627.9 L167.2,625.9 L177.0,626.9 L188.7,614.2 L198.4,614.2 L206.2,611.2 L216.0,609.3 L221.9,609.3 L227.7,612.2 L240.0,612.0 L251.7,612.6 L269.3,609.1 L288.8,606.7 L304.5,606.1 L322.0,610.0 L337.7,608.7 L361.1,603.6 L376.7,606.1 L394.3,601.2 L402.1,603.2 L411.9,610.0 L416.8,605.2 L418.7,597.3 L422.6,595.4 L425.5,600.3 L430.0,601.0 L441.7,596.1 L448.6,598.1 L455.4,594.8 L463.2,599.1 L469.1,574.6 L476.9,582.5 L487.6,586.4 L490.5,583.4 L494.5,584.4 L508.1,576.6 L517.9,579.5 L522.8,577.6 L527.7,581.5 L536.4,581.5 L543.3,579.5 L547.2,574.1 L557.0,571.7 L566.7,567.8 L580.4,568.2 L583.3,562.9 L596.0,562.9 L609.7,565.5 L620.0,566.1 L639.5,565.7 L645.4,563.4 L654.2,562.8 L659.1,567.3 L666.9,575.5 L682.5,573.5 L694.2,576.4 L702.0,574.5 L730.0,574.5 L732.3,552.0 L734.8,528.6 L736.8,534.5 L739.1,526.6 L747.0,528.6 L752.8,522.7 L758.7,512.0 L764.5,504.2 L771.4,498.3 L779.2,497.9 L786.0,502.2 L793.8,504.2 L803.6,503.2 L810.0,500.3 L815.9,500.9 L825.6,512.0 L836.4,514.5 L839.3,520.4 L849.1,521.8 L863.7,522.3 L868.6,519.8 L872.5,515.3 L882.3,511.0 L894.0,508.1 L907.7,503.6 L923.3,504.2 L933.0,503.6 L942.8,499.3 L954.5,499.3 L959.4,497.3 L959.4,551.2 L954.5,552.0 L942.8,552.0 L935.0,557.5 L923.3,559.5 L907.7,558.9 L894.0,563.4 L882.3,565.7 L872.5,568.6 L869.6,572.5 L864.7,575.1 L849.1,574.1 L839.3,572.5 L836.4,569.6 L825.6,567.7 L815.9,558.3 L810.0,557.9 L799.7,559.8 L789.9,557.9 L782.1,554.0 L774.3,552.0 L766.5,555.0 L758.7,560.8 L752.8,571.6 L747.0,576.4 L739.1,574.6 L737.2,578.6 L735.2,576.6 L733.3,583.4 L730.0,607.9 L702.0,607.9 L694.2,609.8 L682.5,606.9 L666.9,607.9 L659.1,602.0 L654.2,597.1 L645.4,597.5 L639.5,600.0 L620.0,600.0 L609.7,599.1 L596.0,596.7 L583.3,596.7 L580.4,601.4 L566.7,601.4 L557.0,604.9 L547.2,606.9 L543.3,611.2 L536.4,612.3 L527.7,612.3 L517.9,610.4 L508.1,606.9 L496.4,611.8 L487.6,616.6 L476.9,611.8 L469.1,606.9 L463.2,625.4 L455.4,622.1 L448.6,624.5 L441.7,622.5 L430.0,625.4 L425.5,626.6 L421.6,623.1 L418.7,625.7 L416.8,631.5 L409.9,634.5 L402.1,630.5 L394.3,629.2 L380.6,632.1 L361.1,632.1 L343.5,636.0 L327.9,636.4 L310.3,633.5 L298.6,634.5 L279.1,636.4 L259.5,638.4 L240.0,637.4 L233.6,637.0 L221.9,635.1 L212.1,635.7 L202.3,638.6 L188.7,638.0 L177.0,646.8 L141.8,647.4 L134.0,649.3 L123.2,654.6 L108.6,656.2 L79.3,656.6 L67.6,653.2 Z" fill="#4a5c6b" fill-opacity="0.30"/>
<path d="M67.6,653.2 L79.3,656.6 L108.6,656.2 L123.2,654.6 L134.0,649.3 L141.8,647.4 L177.0,646.8 L188.7,638.0 L202.3,638.6 L212.1,635.7 L221.9,635.1 L233.6,637.0 L240.0,637.4 L259.5,638.4 L279.1,636.4 L298.6,634.5 L310.3,633.5 L327.9,636.4 L343.5,636.0 L361.1,632.1 L380.6,632.1 L394.3,629.2 L402.1,630.5 L409.9,634.5 L416.8,631.5 L418.7,625.7 L421.6,623.1 L425.5,626.6 L430.0,625.4 L441.7,622.5 L448.6,624.5 L455.4,622.1 L463.2,625.4 L469.1,606.9 L476.9,611.8 L487.6,616.6 L496.4,611.8 L508.1,606.9 L517.9,610.4 L527.7,612.3 L536.4,612.3 L543.3,611.2 L547.2,606.9 L557.0,604.9 L566.7,601.4 L580.4,601.4 L583.3,596.7 L596.0,596.7 L609.7,599.1 L620.0,600.0 L639.5,600.0 L645.4,597.5 L654.2,597.1 L659.1,602.0 L666.9,607.9 L682.5,606.9 L694.2,609.8 L702.0,607.9 L730.0,607.9 L733.3,583.4 L735.2,576.6 L737.2,578.6 L739.1,574.6 L747.0,576.4 L752.8,571.6 L758.7,560.8 L766.5,555.0 L774.3,552.0 L782.1,554.0 L789.9,557.9 L799.7,559.8 L810.0,557.9 L815.9,558.3 L825.6,567.7 L836.4,569.6 L839.3,572.5 L849.1,574.1 L864.7,575.1 L869.6,572.5 L872.5,568.6 L882.3,565.7 L894.0,563.4 L907.7,558.9 L923.3,559.5 L935.0,557.5 L942.8,552.0 L954.5,552.0 L959.4,551.2 L959.4,607.3 L954.5,608.3 L942.8,607.7 L935.0,610.9 L911.6,612.2 L894.0,614.8 L872.5,618.1 L869.6,620.6 L864.7,622.0 L839.3,622.6 L836.4,621.0 L825.6,620.0 L815.9,615.5 L810.0,615.5 L807.5,615.7 L791.9,615.7 L782.1,613.7 L770.4,611.2 L760.6,611.8 L754.8,616.6 L748.9,620.5 L739.1,622.5 L737.2,624.8 L735.2,622.9 L733.3,626.4 L730.0,642.0 L702.0,642.0 L694.2,643.0 L682.5,641.1 L666.9,641.1 L659.1,636.2 L654.2,633.2 L641.5,635.8 L620.0,635.2 L609.7,634.6 L596.0,633.2 L583.3,633.2 L581.4,636.6 L566.7,637.1 L547.2,641.1 L542.3,644.4 L527.7,645.5 L522.8,643.6 L517.9,644.4 L508.1,642.0 L490.5,645.9 L487.6,647.9 L476.9,645.0 L469.1,641.6 L464.2,652.8 L455.4,650.2 L445.6,651.4 L430.0,653.8 L427.5,654.0 L422.6,652.4 L419.7,653.6 L416.8,657.9 L409.9,660.2 L404.1,657.9 L396.2,656.9 L357.2,657.5 L318.1,658.9 L279.1,658.9 L255.6,660.2 L240.0,659.8 L214.1,658.5 L200.4,660.1 L188.7,659.7 L177.0,664.4 L141.8,664.4 L134.0,665.9 L122.3,669.5 L79.3,670.2 L67.6,668.3 Z" fill="#4e6177" fill-opacity="0.30"/>
<path d="M67.6,668.3 L79.3,670.2 L122.3,669.5 L134.0,665.9 L141.8,664.4 L177.0,664.4 L188.7,659.7 L200.4,660.1 L214.1,658.5 L240.0,659.8 L255.6,660.2 L279.1,658.9 L318.1,658.9 L357.2,657.5 L396.2,656.9 L404.1,657.9 L409.9,660.2 L416.8,657.9 L419.7,653.6 L422.6,652.4 L427.5,654.0 L430.0,653.8 L445.6,651.4 L455.4,650.2 L464.2,652.8 L469.1,641.6 L476.9,645.0 L487.6,647.9 L490.5,645.9 L508.1,642.0 L517.9,644.4 L522.8,643.6 L527.7,645.5 L542.3,644.4 L547.2,641.1 L566.7,637.1 L581.4,636.6 L583.3,633.2 L596.0,633.2 L609.7,634.6 L620.0,635.2 L641.5,635.8 L654.2,633.2 L659.1,636.2 L666.9,641.1 L682.5,641.1 L694.2,643.0 L702.0,642.0 L730.0,642.0 L733.3,626.4 L735.2,622.9 L737.2,624.8 L739.1,622.5 L748.9,620.5 L754.8,616.6 L760.6,611.8 L770.4,611.2 L782.1,613.7 L791.9,615.7 L807.5,615.7 L810.0,615.5 L815.9,615.5 L825.6,620.0 L836.4,621.0 L839.3,622.6 L864.7,622.0 L869.6,620.6 L872.5,618.1 L894.0,614.8 L911.6,612.2 L935.0,610.9 L942.8,607.7 L954.5,608.3 L959.4,607.3 L959.4,635.7 L954.5,636.6 L942.8,636.1 L935.0,637.6 L911.6,638.6 L894.0,640.5 L872.5,642.9 L868.6,644.5 L839.3,646.4 L825.6,645.4 L817.8,643.5 L810.0,642.9 L791.9,643.0 L776.2,641.1 L762.6,639.7 L756.7,641.1 L748.9,645.0 L739.1,645.5 L737.2,647.5 L735.2,645.5 L733.3,648.9 L730.0,657.7 L694.2,657.7 L682.5,656.3 L666.9,655.7 L654.2,652.6 L641.5,654.3 L620.0,654.3 L596.0,653.4 L583.3,653.4 L581.4,655.3 L566.7,655.7 L547.2,658.6 L542.3,662.0 L527.7,661.6 L508.1,660.6 L488.6,663.9 L476.9,661.6 L469.1,659.6 L464.2,667.0 L455.4,665.5 L445.6,666.4 L430.0,668.4 L425.5,667.7 L420.7,667.3 L416.8,670.0 L409.9,672.0 L396.2,669.2 L357.2,669.6 L279.1,670.4 L255.6,671.6 L240.0,671.2 L214.1,670.2 L188.7,671.0 L177.0,673.8 L141.8,673.8 L134.0,674.7 L122.3,677.1 L79.3,677.7 L67.6,675.7 Z" fill="#714c20"/>
<path d="M67.6,675.7 L79.3,677.7 L122.3,677.1 L134.0,674.7 L141.8,673.8 L177.0,673.8 L188.7,671.0 L214.1,670.2 L240.0,671.2 L255.6,671.6 L279.1,670.4 L357.2,669.6 L396.2,669.2 L409.9,672.0 L416.8,670.0 L420.7,667.3 L425.5,667.7 L430.0,668.4 L445.6,666.4 L455.4,665.5 L464.2,667.0 L469.1,659.6 L476.9,661.6 L488.6,663.9 L508.1,660.6 L527.7,661.6 L542.3,662.0 L547.2,658.6 L566.7,655.7 L581.4,655.3 L583.3,653.4 L596.0,653.4 L620.0,654.3 L641.5,654.3 L654.2,652.6 L666.9,655.7 L682.5,656.3 L694.2,657.7 L730.0,657.7 L733.3,648.9 L735.2,645.5 L737.2,647.5 L739.1,645.5 L748.9,645.0 L756.7,641.1 L762.6,639.7 L776.2,641.1 L791.9,643.0 L810.0,642.9 L817.8,643.5 L825.6,645.4 L839.3,646.4 L868.6,644.5 L872.5,642.9 L894.0,640.5 L911.6,638.6 L935.0,637.6 L942.8,636.1 L954.5,636.6 L959.4,635.7 L959.4,667.5 L954.5,668.3 L911.6,668.9 L894.0,669.8 L868.6,670.8 L839.3,671.4 L817.8,670.2 L810.0,671.8 L807.5,672.1 L791.9,672.1 L776.2,670.9 L760.6,671.3 L748.9,673.3 L737.2,673.3 L733.3,674.3 L728.4,677.2 L694.2,676.8 L684.5,675.6 L668.8,674.3 L620.0,674.5 L584.3,674.8 L581.4,676.0 L566.7,676.2 L551.1,677.2 L542.3,679.1 L508.1,678.4 L488.6,679.5 L469.1,677.6 L464.2,679.9 L449.5,679.9 L430.0,680.7 L420.7,680.2 L416.8,681.7 L409.9,682.5 L396.2,680.9 L298.6,681.3 L259.5,682.1 L240.0,681.9 L214.1,681.4 L188.7,681.8 L177.0,683.9 L134.0,684.5 L122.3,686.4 L89.1,686.8 L67.6,685.9 Z" fill="#81561f"/>
<path d="M67.6,685.9 L89.1,686.8 L122.3,686.4 L134.0,684.5 L177.0,683.9 L188.7,681.8 L214.1,681.4 L240.0,681.9 L259.5,682.1 L298.6,681.3 L396.2,680.9 L409.9,682.5 L416.8,681.7 L420.7,680.2 L430.0,680.7 L449.5,679.9 L464.2,679.9 L469.1,677.6 L488.6,679.5 L508.1,678.4 L542.3,679.1 L551.1,677.2 L566.7,676.2 L581.4,676.0 L584.3,674.8 L620.0,674.5 L668.8,674.3 L684.5,675.6 L694.2,676.8 L728.4,677.2 L733.3,674.3 L737.2,673.3 L748.9,673.3 L760.6,671.3 L776.2,670.9 L791.9,672.1 L807.5,672.1 L810.0,671.8 L817.8,670.2 L839.3,671.4 L868.6,670.8 L894.0,669.8 L911.6,668.9 L954.5,668.3 L959.4,667.5 L959.4,689.3 L67.6,689.3 Z" fill="#856b50"/>
<g stroke="#ffffff" stroke-opacity="0.085" stroke-width="1">
<line x1="18" x2="1011" y1="488.9" y2="488.9"/>
<line x1="18" x2="1011" y1="538.6" y2="538.6"/>
<line x1="18" x2="1011" y1="588.7" y2="588.7"/>
<line x1="18" x2="1011" y1="638.8" y2="638.8"/>
<line x1="18" x2="1011" y1="689.3" y2="689.3"/>
</g>
<path d="M67.6,637.6 L79.3,641.5 L98.8,641.5 L122.3,639.6 L128.1,635.7 L139.8,628.8 L155.5,627.9 L167.2,625.9 L177.0,626.9 L188.7,614.2 L198.4,614.2 L206.2,611.2 L216.0,609.3 L221.9,609.3 L227.7,612.2 L240.0,612.0 L251.7,612.6 L269.3,609.1 L288.8,606.7 L304.5,606.1 L322.0,610.0 L337.7,608.7 L361.1,603.6 L376.7,606.1 L394.3,601.2 L402.1,603.2 L411.9,610.0 L416.8,605.2 L418.7,597.3 L422.6,595.4 L425.5,600.3 L430.0,601.0 L441.7,596.1 L448.6,598.1 L455.4,594.8 L463.2,599.1 L469.1,574.6 L476.9,582.5 L487.6,586.4 L490.5,583.4 L494.5,584.4 L508.1,576.6 L517.9,579.5 L522.8,577.6 L527.7,581.5 L536.4,581.5 L543.3,579.5 L547.2,574.1 L557.0,571.7 L566.7,567.8 L580.4,568.2 L583.3,562.9 L596.0,562.9 L609.7,565.5 L620.0,566.1 L639.5,565.7 L645.4,563.4 L654.2,562.8 L659.1,567.3 L666.9,575.5 L682.5,573.5 L694.2,576.4 L702.0,574.5 L730.0,574.5 L732.3,552.0 L734.8,528.6 L736.8,534.5 L739.1,526.6 L747.0,528.6 L752.8,522.7 L758.7,512.0 L764.5,504.2 L771.4,498.3 L779.2,497.9 L786.0,502.2 L793.8,504.2 L803.6,503.2 L810.0,500.3 L815.9,500.9 L825.6,512.0 L836.4,514.5 L839.3,520.4 L849.1,521.8 L863.7,522.3 L868.6,519.8 L872.5,515.3 L882.3,511.0 L894.0,508.1 L907.7,503.6 L923.3,504.2 L933.0,503.6 L942.8,499.3 L954.5,499.3 L959.4,497.3" fill="none" stroke="#4c5c6a" stroke-width="1.2" stroke-linejoin="round"/>
<path d="M67.6,653.2 L79.3,656.6 L108.6,656.2 L123.2,654.6 L134.0,649.3 L141.8,647.4 L177.0,646.8 L188.7,638.0 L202.3,638.6 L212.1,635.7 L221.9,635.1 L233.6,637.0 L240.0,637.4 L259.5,638.4 L279.1,636.4 L298.6,634.5 L310.3,633.5 L327.9,636.4 L343.5,636.0 L361.1,632.1 L380.6,632.1 L394.3,629.2 L402.1,630.5 L409.9,634.5 L416.8,631.5 L418.7,625.7 L421.6,623.1 L425.5,626.6 L430.0,625.4 L441.7,622.5 L448.6,624.5 L455.4,622.1 L463.2,625.4 L469.1,606.9 L476.9,611.8 L487.6,616.6 L496.4,611.8 L508.1,606.9 L517.9,610.4 L527.7,612.3 L536.4,612.3 L543.3,611.2 L547.2,606.9 L557.0,604.9 L566.7,601.4 L580.4,601.4 L583.3,596.7 L596.0,596.7 L609.7,599.1 L620.0,600.0 L639.5,600.0 L645.4,597.5 L654.2,597.1 L659.1,602.0 L666.9,607.9 L682.5,606.9 L694.2,609.8 L702.0,607.9 L730.0,607.9 L733.3,583.4 L735.2,576.6 L737.2,578.6 L739.1,574.6 L747.0,576.4 L752.8,571.6 L758.7,560.8 L766.5,555.0 L774.3,552.0 L782.1,554.0 L789.9,557.9 L799.7,559.8 L810.0,557.9 L815.9,558.3 L825.6,567.7 L836.4,569.6 L839.3,572.5 L849.1,574.1 L864.7,575.1 L869.6,572.5 L872.5,568.6 L882.3,565.7 L894.0,563.4 L907.7,558.9 L923.3,559.5 L935.0,557.5 L942.8,552.0 L954.5,552.0 L959.4,551.2" fill="none" stroke="#4f6277" stroke-width="1.2" stroke-linejoin="round"/>
<path d="M67.6,668.3 L79.3,670.2 L122.3,669.5 L134.0,665.9 L141.8,664.4 L177.0,664.4 L188.7,659.7 L200.4,660.1 L214.1,658.5 L240.0,659.8 L255.6,660.2 L279.1,658.9 L318.1,658.9 L357.2,657.5 L396.2,656.9 L404.1,657.9 L409.9,660.2 L416.8,657.9 L419.7,653.6 L422.6,652.4 L427.5,654.0 L430.0,653.8 L445.6,651.4 L455.4,650.2 L464.2,652.8 L469.1,641.6 L476.9,645.0 L487.6,647.9 L490.5,645.9 L508.1,642.0 L517.9,644.4 L522.8,643.6 L527.7,645.5 L542.3,644.4 L547.2,641.1 L566.7,637.1 L581.4,636.6 L583.3,633.2 L596.0,633.2 L609.7,634.6 L620.0,635.2 L641.5,635.8 L654.2,633.2 L659.1,636.2 L666.9,641.1 L682.5,641.1 L694.2,643.0 L702.0,642.0 L730.0,642.0 L733.3,626.4 L735.2,622.9 L737.2,624.8 L739.1,622.5 L748.9,620.5 L754.8,616.6 L760.6,611.8 L770.4,611.2 L782.1,613.7 L791.9,615.7 L807.5,615.7 L810.0,615.5 L815.9,615.5 L825.6,620.0 L836.4,621.0 L839.3,622.6 L864.7,622.0 L869.6,620.6 L872.5,618.1 L894.0,614.8 L911.6,612.2 L935.0,610.9 L942.8,607.7 L954.5,608.3 L959.4,607.3" fill="none" stroke="#d28a30" stroke-width="1.7" stroke-linejoin="round"/>
<path d="M67.6,675.7 L79.3,677.7 L122.3,677.1 L134.0,674.7 L141.8,673.8 L177.0,673.8 L188.7,671.0 L214.1,670.2 L240.0,671.2 L255.6,671.6 L279.1,670.4 L357.2,669.6 L396.2,669.2 L409.9,672.0 L416.8,670.0 L420.7,667.3 L425.5,667.7 L430.0,668.4 L445.6,666.4 L455.4,665.5 L464.2,667.0 L469.1,659.6 L476.9,661.6 L488.6,663.9 L508.1,660.6 L527.7,661.6 L542.3,662.0 L547.2,658.6 L566.7,655.7 L581.4,655.3 L583.3,653.4 L596.0,653.4 L620.0,654.3 L641.5,654.3 L654.2,652.6 L666.9,655.7 L682.5,656.3 L694.2,657.7 L730.0,657.7 L733.3,648.9 L735.2,645.5 L737.2,647.5 L739.1,645.5 L748.9,645.0 L756.7,641.1 L762.6,639.7 L776.2,641.1 L791.9,643.0 L810.0,642.9 L817.8,643.5 L825.6,645.4 L839.3,646.4 L868.6,644.5 L872.5,642.9 L894.0,640.5 L911.6,638.6 L935.0,637.6 L942.8,636.1 L954.5,636.6 L959.4,635.7" fill="none" stroke="#f7931e" stroke-width="1.9" stroke-linejoin="round"/>
<path d="M67.6,685.9 L89.1,686.8 L122.3,686.4 L134.0,684.5 L177.0,683.9 L188.7,681.8 L214.1,681.4 L240.0,681.9 L259.5,682.1 L298.6,681.3 L396.2,680.9 L409.9,682.5 L416.8,681.7 L420.7,680.2 L430.0,680.7 L449.5,679.9 L464.2,679.9 L469.1,677.6 L488.6,679.5 L508.1,678.4 L542.3,679.1 L551.1,677.2 L566.7,676.2 L581.4,676.0 L584.3,674.8 L620.0,674.5 L668.8,674.3 L684.5,675.6 L694.2,676.8 L728.4,677.2 L733.3,674.3 L737.2,673.3 L748.9,673.3 L760.6,671.3 L776.2,670.9 L791.9,672.1 L807.5,672.1 L810.0,671.8 L817.8,670.2 L839.3,671.4 L868.6,670.8 L894.0,669.8 L911.6,668.9 L954.5,668.3 L959.4,667.5" fill="none" stroke="#f8cf9e" stroke-width="1.9" stroke-linejoin="round"/>
</svg>

<!-- x labels top -->
<div class="xl" style="left:37px;top:369.5px">24 Sep 2019</div>
<div class="xl" style="left:166px;top:369.5px">11 Jun 2020</div>
<div class="xl" style="left:292.5px;top:369.5px">27 Feb 2021</div>
<div class="xl" style="left:420px;top:369.5px">15 Nov 2021</div>
<div class="xl" style="left:550px;top:369.5px">3 Aug 2022</div>
<div class="xl" style="left:676px;top:369.5px">21 Apr 2023</div>
<div class="xl" style="left:806px;top:369.5px">7 Jan 2024</div>
<div class="xl" style="left:929px;top:369.5px">24 Sep 2024</div>
<!-- y labels top -->
<div class="yl" style="left:950.5px;top:138.5px;color:#d78a2f">Traffic</div>
<div class="yl" style="left:950.5px;top:169.7px;color:#d78a2f">1.6M</div>
<div class="yl" style="left:950.5px;top:219.5px;color:#d78a2f">1.2M</div>
<div class="yl" style="left:950.5px;top:269.7px;color:#d78a2f">800K</div>
<div class="yl" style="left:950.5px;top:320px;color:#d78a2f">400K</div>
<div class="yl" style="left:950.5px;top:369.5px;color:#d78a2f">0</div>

<!-- x labels bottom -->
<div class="xl" style="left:37px;top:697.8px">24 Sep 2019</div>
<div class="xl" style="left:166px;top:697.8px">11 Jun 2020</div>
<div class="xl" style="left:292.5px;top:697.8px">27 Feb 2021</div>
<div class="xl" style="left:420px;top:697.8px">15 Nov 2021</div>
<div class="xl" style="left:550px;top:697.8px">3 Aug 2022</div>
<div class="xl" style="left:676px;top:697.8px">21 Apr 2023</div>
<div class="xl" style="left:806px;top:697.8px">7 Jan 2024</div>
<div class="xl" style="left:929px;top:697.8px">24 Sep 2024</div>
<!-- y labels bottom -->
<div class="yl" style="left:950.5px;top:497.7px;color:#9fa1a3">200K</div>
<div class="yl" style="left:950.5px;top:547.6px;color:#9fa1a3">150K</div>
<div class="yl" style="left:950.5px;top:597.8px;color:#9fa1a3">100K</div>
<div class="yl" style="left:950.5px;top:647.8px;color:#9fa1a3">50K</div>
<div class="yl" style="left:950.5px;top:697.8px;color:#9fa1a3">0</div>
</div>
</body></html>
